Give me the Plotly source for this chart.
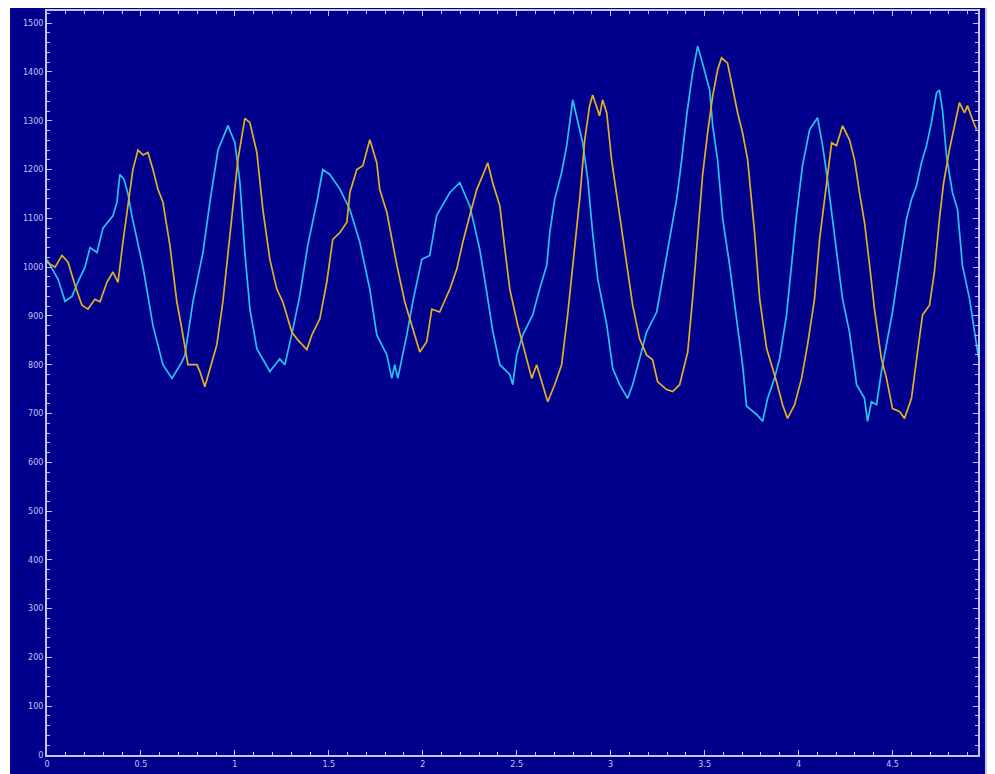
import plotly.graph_objects as go

# ---- data ----
cyan_x = [0.000, 0.059, 0.096, 0.133, 0.165, 0.202, 0.229, 0.266, 0.298, 0.351, 0.372, 0.388,
          0.410, 0.431, 0.452, 0.479, 0.511, 0.564, 0.617, 0.665, 0.718, 0.734, 0.777, 0.830,
          0.867, 0.910, 0.963, 1.000, 1.027, 1.053, 1.080, 1.117, 1.186, 1.239, 1.266, 1.309,
          1.346, 1.388, 1.436, 1.468, 1.505, 1.559, 1.612, 1.665, 1.718, 1.755, 1.809, 1.835,
          1.851, 1.867, 1.915, 1.947, 1.995, 2.037, 2.074, 2.144, 2.197, 2.250, 2.303, 2.340,
          2.372, 2.410, 2.463, 2.479, 2.500, 2.532, 2.585, 2.622, 2.660, 2.676, 2.702, 2.739,
          2.766, 2.798, 2.824, 2.851, 2.878, 2.904, 2.931, 2.979, 3.011, 3.048, 3.090, 3.117,
          3.154, 3.191, 3.245, 3.277, 3.314, 3.351, 3.378, 3.404, 3.436, 3.463, 3.489, 3.527,
          3.543, 3.569, 3.596, 3.633, 3.670, 3.702, 3.723, 3.777, 3.809, 3.835, 3.872, 3.899,
          3.936, 3.963, 3.989, 4.021, 4.059, 4.101, 4.128, 4.154, 4.181, 4.207, 4.234, 4.271,
          4.309, 4.351, 4.367, 4.388, 4.415, 4.441, 4.468, 4.500, 4.537, 4.574, 4.601, 4.628,
          4.654, 4.681, 4.707, 4.734, 4.750, 4.766, 4.787, 4.819, 4.846, 4.872, 4.910, 4.947,
          4.957]
cyan_y = [1015, 975, 930, 940, 970, 1000, 1040, 1030, 1080, 1105, 1133, 1190,
          1180, 1150, 1105, 1060, 1000, 880, 800, 772, 806, 820, 930, 1030,
          1133, 1240, 1290, 1255, 1173, 1030, 914, 833, 786, 812, 800, 873,
          943, 1045, 1133, 1200, 1190, 1160, 1118, 1051, 955, 861, 820, 772,
          800, 772, 861, 929, 1016, 1024, 1106, 1153, 1173, 1126, 1037, 950,
          870, 800, 780, 759, 820, 861, 902, 955, 1004, 1071, 1139, 1194,
          1249, 1343, 1302, 1255, 1180, 1071, 976, 882, 792, 759, 731, 759,
          812, 867, 908, 976, 1057, 1139, 1220, 1310, 1398, 1453, 1418, 1363,
          1290, 1220, 1100, 1004, 894, 800, 715, 698, 684, 731, 772, 812,
          902, 1004, 1106, 1208, 1282, 1306, 1249, 1180, 1098, 1016, 935, 867,
          759, 731, 684, 724, 718, 786, 841, 908, 1004, 1098, 1139, 1167,
          1214, 1249, 1296, 1357, 1363, 1322, 1229, 1153, 1118, 1004, 935, 833,
          816]

gold_x = [0.000, 0.016, 0.043, 0.080, 0.112, 0.149, 0.186, 0.218, 0.255, 0.282, 0.319, 0.351,
          0.378, 0.404, 0.431, 0.457, 0.484, 0.511, 0.537, 0.564, 0.590, 0.617, 0.654, 0.691,
          0.718, 0.750, 0.798, 0.814, 0.840, 0.867, 0.904, 0.936, 0.973, 0.989, 1.016, 1.053,
          1.080, 1.117, 1.149, 1.186, 1.223, 1.255, 1.303, 1.330, 1.383, 1.410, 1.452, 1.489,
          1.521, 1.559, 1.596, 1.612, 1.649, 1.681, 1.718, 1.755, 1.771, 1.809, 1.862, 1.904,
          1.947, 1.984, 2.021, 2.048, 2.090, 2.144, 2.181, 2.213, 2.250, 2.287, 2.319, 2.346,
          2.372, 2.410, 2.436, 2.463, 2.505, 2.543, 2.580, 2.606, 2.633, 2.665, 2.702, 2.739,
          2.771, 2.809, 2.835, 2.862, 2.888, 2.904, 2.941, 2.957, 2.979, 3.005, 3.032, 3.059,
          3.090, 3.117, 3.154, 3.191, 3.223, 3.250, 3.298, 3.330, 3.367, 3.410, 3.436, 3.463,
          3.489, 3.516, 3.543, 3.569, 3.590, 3.622, 3.649, 3.676, 3.702, 3.729, 3.766, 3.793,
          3.830, 3.883, 3.915, 3.941, 3.979, 4.016, 4.048, 4.085, 4.112, 4.149, 4.176, 4.202,
          4.234, 4.271, 4.298, 4.324, 4.351, 4.378, 4.404, 4.441, 4.468, 4.500, 4.537, 4.564,
          4.601, 4.633, 4.660, 4.697, 4.723, 4.750, 4.771, 4.803, 4.830, 4.856, 4.883, 4.899,
          4.926, 4.947]
gold_y = [1010, 1006, 1000, 1024, 1010, 963, 922, 914, 934, 929, 969, 990,
          969, 1051, 1133, 1200, 1240, 1230, 1235, 1200, 1160, 1133, 1045, 929,
          873, 800, 800, 786, 755, 792, 841, 929, 1065, 1133, 1220, 1305,
          1296, 1235, 1118, 1016, 955, 929, 867, 853, 831, 861, 894, 969,
          1057, 1071, 1092, 1153, 1200, 1208, 1261, 1214, 1159, 1112, 1004, 929,
          873, 826, 847, 914, 908, 955, 996, 1051, 1106, 1159, 1188, 1214,
          1173, 1126, 1040, 955, 882, 826, 772, 800, 765, 724, 759, 800,
          902, 1037, 1139, 1261, 1331, 1353, 1310, 1343, 1316, 1220, 1147, 1071,
          990, 922, 853, 820, 810, 765, 749, 745, 759, 826, 935, 1071,
          1188, 1275, 1351, 1404, 1429, 1418, 1363, 1316, 1275, 1220, 1071, 935,
          833, 765, 718, 690, 718, 772, 841, 935, 1057, 1173, 1255, 1249,
          1290, 1261, 1220, 1153, 1092, 1004, 914, 812, 772, 710, 704, 690,
          731, 826, 902, 922, 990, 1100, 1170, 1241, 1290, 1337, 1316, 1331,
          1302, 1282]

x_tick_vals = [0, 0.5, 1, 1.5, 2, 2.5, 3, 3.5, 4, 4.5]
x_tick_text = ["0", "0.5", "1", "1.5", "2", "2.5", "3", "3.5", "4", "4.5"]
y_tick_vals = list(range(0, 1600, 100))
y_tick_text = [str(v) for v in y_tick_vals]

BG = "#00008C"
AX = "#C4C4EC"

fig = go.Figure()
fig.add_trace(go.Scatter(x=cyan_x, y=cyan_y, mode="lines",
                         line=dict(color="#22C4EE", width=1.7), showlegend=False))
fig.add_trace(go.Scatter(x=gold_x, y=gold_y, mode="lines",
                         line=dict(color="#E2B024", width=1.7), showlegend=False))

axis_common = dict(showline=True, linecolor=AX, linewidth=2, mirror="allticks",
                   ticks="inside", ticklen=5, tickcolor=AX, tickwidth=1,
                   showgrid=False, zeroline=False,
                   tickfont=dict(family="DejaVu Sans", size=8, color=AX))

fig.update_xaxes(range=[0, 4.955], tickvals=x_tick_vals, ticktext=x_tick_text,
                 minor=dict(dtick=0.1, ticks="inside", ticklen=3, tickcolor=AX, showgrid=False),
                 **axis_common)
fig.update_yaxes(range=[0, 1525], tickvals=y_tick_vals, ticktext=y_tick_text,
                 minor=dict(dtick=20, ticks="inside", ticklen=3, tickcolor=AX, showgrid=False),
                 **axis_common)

fig.update_layout(
    width=995, height=774,
    margin=dict(l=39, r=25, t=1, b=27, pad=0),
    paper_bgcolor=BG, plot_bgcolor=BG,
    shapes=[
        dict(type="rect", xref="paper", yref="paper", x0=1.0075, x1=1.0107, y0=-0.2, y1=1.2,
             fillcolor="#C8C8F0", line=dict(width=0), layer="above"),
        dict(type="rect", xref="paper", yref="paper", x0=1.0107, x1=1.2, y0=-0.2, y1=1.2,
             fillcolor="white", line=dict(width=0), layer="above"),
        dict(type="rect", xref="paper", yref="paper", x0=-0.2, x1=-0.0397, y0=-0.2, y1=1.2,
             fillcolor="white", line=dict(width=0), layer="above"),
    ],
)

fig.write_html("out.html")
